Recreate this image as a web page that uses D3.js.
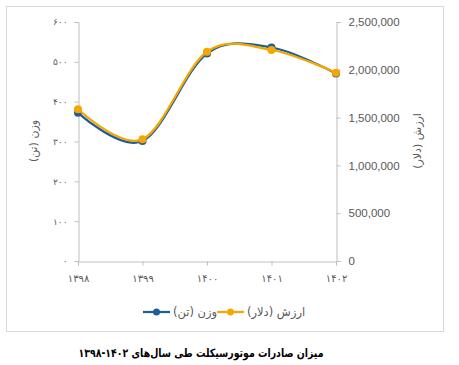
<!DOCTYPE html>
<html>
<head>
<meta charset="utf-8">
<script src="https://cdn.jsdelivr.net/npm/d3@7"></script>
<style>
	body { margin: 0; background: #fff; }
	text { font-family: "DejaVu Sans", sans-serif; }
</style>
</head>
<body>
<div id="chart"></div>
<script>
/*
*	Data
*/
var years = ['۱۳۹۸', '۱۳۹۹', '۱۴۰۰', '۱۴۰۱', '۱۴۰۲'];
var weight = [372, 301, 521, 536, 471];
var value = [1587000, 1273000, 2189000, 2207000, 1970000];
var weightTicks = [0, 100, 200, 300, 400, 500, 600];
var valueTicks = [0, 500000, 1000000, 1500000, 2000000, 2500000];
var weightName = 'وزن (تن)';
var valueName = 'ارزش (دلار)';
var caption = 'میزان صادرات موتورسیکلت طی سال‌های ۱۴۰۲-۱۳۹۸';

function toFa(n) {
	return String(n).replace(/\d/g, function (d) { return '۰۱۲۳۴۵۶۷۸۹'[d]; });
}

var blue = '#1f5d99', orange = '#f5a700', grey = '#595959', axisGrey = '#bfbfbf';

var svg = d3.select('#chart').append('svg')
	.attr('width', 459)
	.attr('height', 365);

// chart frame
svg.append('rect')
	.attr('x', 6.5).attr('y', 6.5)
	.attr('width', 437).attr('height', 325)
	.attr('fill', 'none')
	.attr('stroke', '#d9d9d9');

var x = d3.scalePoint().domain(years).range([78, 336]);
var yL = d3.scaleLinear().domain([0, 600]).range([261, 22]);
var yR = d3.scaleLinear().domain([0, 2500000]).range([261, 22]);

// left axis
var gL = svg.append('g').attr('transform', 'translate(78.5,0)')
	.call(d3.axisLeft(yL).tickValues(weightTicks).tickSize(4).tickPadding(7).tickFormat(toFa));
gL.selectAll('text').attr('fill', grey).style('font-size', '9px');

// right axis
var gR = svg.append('g').attr('transform', 'translate(336.5,0)')
	.call(d3.axisRight(yR).tickValues(valueTicks).tickSize(4).tickPadding(8).tickFormat(d3.format(',')));
gR.selectAll('text').attr('fill', grey)
	.style('font-family', '"Liberation Sans", sans-serif').style('font-size', '11.5px');

// bottom axis
var gB = svg.append('g').attr('transform', 'translate(0,261.5)')
	.call(d3.axisBottom(x).tickSize(4).tickPadding(9));
gB.selectAll('text').attr('fill', grey).style('font-size', '10px');

[gL, gR, gB].forEach(function (g) {
	g.select('.domain').attr('stroke', axisGrey);
	g.selectAll('.tick line').attr('stroke', axisGrey);
});

// axis titles
svg.append('text')
	.attr('transform', 'translate(37,141) rotate(-90)')
	.attr('text-anchor', 'middle')
	.attr('fill', grey).style('font-size', '11px')
	.text(weightName);

svg.append('text')
	.attr('transform', 'translate(421,141) rotate(-90)')
	.attr('text-anchor', 'middle')
	.attr('fill', grey).style('font-size', '11px')
	.text(valueName);

// lines
var series = [
	{ vals: weight, y: yL, color: blue },
	{ vals: value, y: yR, color: orange }
];

series.forEach(function (s) {
	var line = d3.line()
		.x(function (d, i) { return x(years[i]); })
		.y(function (d) { return s.y(d); })
		.curve(d3.curveCardinal.tension(0));

	svg.append('path')
		.datum(s.vals)
		.attr('d', line)
		.attr('fill', 'none')
		.attr('stroke', s.color)
		.attr('stroke-width', 2.25)
		.attr('stroke-linecap', 'round');

	svg.selectAll(null)
		.data(s.vals)
		.enter().append('circle')
		.attr('cx', function (d, i) { return x(years[i]); })
		.attr('cy', function (d) { return s.y(d); })
		.attr('r', 4)
		.attr('fill', s.color);
});

// legend
var legend = [
	{ name: valueName, color: orange, x: 217 },
	{ name: weightName, color: blue, x: 143 }
];
legend.forEach(function (l) {
	var g = svg.append('g').attr('transform', 'translate(' + l.x + ',312)');
	g.append('line').attr('x1', 0).attr('x2', 27).attr('y1', 0).attr('y2', 0)
		.attr('stroke', l.color).attr('stroke-width', 2.25);
	g.append('circle').attr('cx', 13.5).attr('cy', 0).attr('r', 3.5).attr('fill', l.color);
	g.append('text').attr('x', 30).attr('y', 4)
		.attr('fill', grey).style('font-size', '11.5px')
		.text(l.name);
});

// caption
svg.append('text')
	.attr('x', 201).attr('y', 357)
	.attr('text-anchor', 'middle')
	.attr('fill', '#000')
	.attr('textLength', 245)
	.attr('lengthAdjust', 'spacingAndGlyphs')
	.style('font-size', '11.5px').style('font-weight', 'bold')
	.text(caption);
</script>
</body>
</html>
